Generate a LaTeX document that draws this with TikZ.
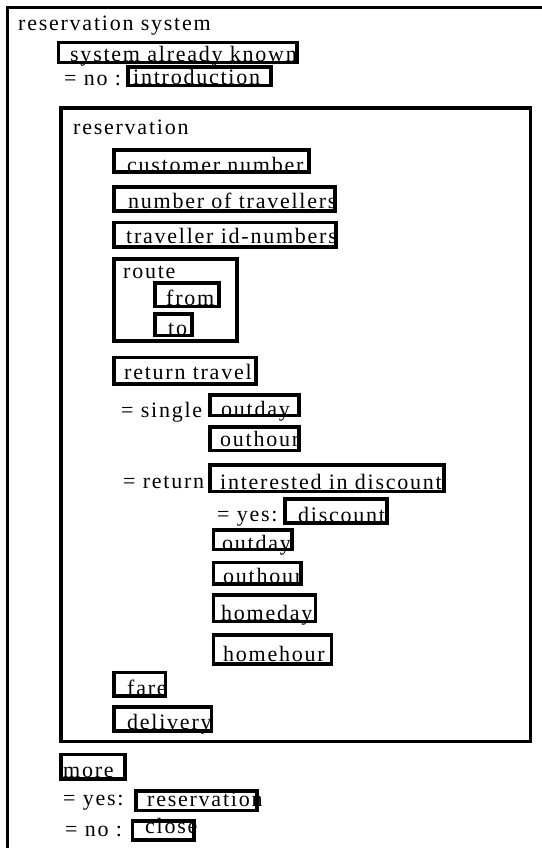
\documentclass[tikz,border=0pt]{standalone}
\usepackage{fontspec}
\setmainfont{Liberation Serif}[LetterSpace=8]
\begin{document}
\begin{tikzpicture}[x=1pt,y=-1pt,
  lbl/.style={anchor=base west,inner sep=0pt,font=\fontsize{22}{26}\selectfont},
  box/.style={draw=black,line width=3.2pt,anchor=north west,inner sep=0pt,outer sep=0pt},
  frame/.style={draw=black,line width=3.4pt}]
\useasboundingbox (0,0) rectangle (541,848);
\newcommand\bx[5]{\node[box,minimum width={#4-#2},minimum height={#5-#3}] (#1) at (#2,#3) {};}
% texts
\node[lbl] (t0) at (18,31) {reservation system};
\node[lbl] (t1) at (70,62) {system already known};
\node[lbl] (t2) at (64,86) {= no :};
\node[lbl] (t3) at (133,85) {introduction};
\node[lbl] (t4) at (73,135) {reservation};
\node[lbl] (t5) at (127,172) {customer number};
\node[lbl] (t6) at (128,208) {number of travellers};
\node[lbl] (t7) at (126,243) {traveller id-numbers};
\node[lbl] (t8) at (123,278) {route};
\node[lbl] (t9) at (166,305) {from};
\node[lbl] (t10) at (168,335) {to};
\node[lbl] (t11) at (124,379) {return travel};
\node[lbl] (t12) at (121,417) {= single};
\node[lbl] (t13) at (221,416) {outday};
\node[lbl] (t14) at (220,446) {outhour};
\node[lbl] (t15) at (123,488) {= return};
\node[lbl] (t16) at (220,489) {interested in discount};
\node[lbl] (t17) at (217,521) {= yes:};
\node[lbl] (t18) at (298,522) {discount};
\node[lbl] (t19) at (222,550) {outday};
\node[lbl] (t20) at (223,583) {outhour};
\node[lbl] (t21) at (221,620) {homeday};
\node[lbl] (t22) at (223,661) {homehour};
\node[lbl] (t23) at (127,695) {fare};
\node[lbl] (t24) at (127,729) {delivery};
\node[lbl] (t25) at (63,777) {more};
\node[lbl] (t26) at (63,805) {= yes:};
\node[lbl] (t27) at (147,806) {reservation};
\node[lbl] (t28) at (65,836) {= no :};
\node[lbl] (t29) at (145,833) {close};
% frames
\draw[frame] (7.5,850) -- (7.5,7.5) -- (543,7.5);
\bx{resv}{61}{108}{530.5}{741.5}
% boxes
\bx{sak}{58.5}{42.5}{297}{62.5}
\bx{intro}{128}{67}{271}{85.5}
\bx{cust}{114}{150}{309}{172}
\bx{numtrav}{114}{187}{335}{211}
\bx{travid}{114}{222.5}{336}{247}
\bx{route}{114}{259}{237}{341}
\bx{from}{155}{283}{219}{306.5}
\bx{to}{155}{314}{192}{335.5}
\bx{rettrav}{114}{357.5}{256}{384}
\bx{outdayA}{210}{395}{299}{415.5}
\bx{outhourA}{210}{427}{299}{450.5}
\bx{interest}{210}{465}{444}{491.5}
\bx{discount}{285}{499}{387}{523}
\bx{outdayB}{213.5}{530}{292}{549.5}
\bx{outhourB}{213.5}{562.5}{301}{584}
\bx{homeday}{213.5}{595}{315.5}{621.5}
\bx{homehour}{213.5}{635}{331.5}{664}
\bx{fare}{114}{672.5}{165.5}{696}
\bx{delivery}{114}{707}{211.5}{731}
\bx{more}{61}{754.5}{125}{779}
\bx{resvB}{136}{791}{257}{810.5}
\bx{close}{132.5}{821}{194}{840}
\end{tikzpicture}
\end{document}
